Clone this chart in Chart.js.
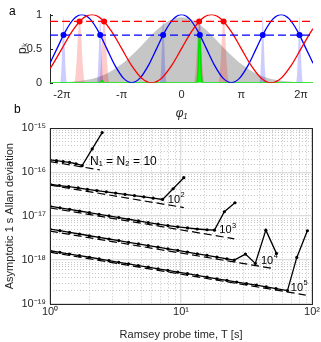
<!DOCTYPE html>
<html><head><meta charset="utf-8">
<script src="https://cdn.jsdelivr.net/npm/chart.js@4"></script>
<style>
html,body{margin:0;padding:0;background:#fff;}
#wrap{position:relative;width:321px;height:342px;overflow:hidden;background:#fff;}
canvas{position:absolute;left:0;}
#ca{top:0;} #cb{top:90px;}
</style></head><body>
<div id="wrap"><canvas id="cb" width="321" height="252"></canvas><canvas id="ca" width="321" height="130"></canvas></div>
<script>
// ---------- Panel a data (phase in units of pi) ----------
const phiTicks = [-2, -1, 0, 1, 2];
const phiLabels = ['-2π', '-π', '0', 'π', '2π'];
const pTicks = [0, 0.5, 1];

const redX = [-2.2,-2.1667,-2.0,-1.8333,-1.6667,-1.5,-1.3333,-1.1667,-1.0,-0.8333,-0.6667,-0.5,-0.3333,-0.1667,0,0.1667,0.3333,0.5,0.6667,0.8333,1.0,1.1667,1.3333,1.5,1.6667,1.8333,2.0,2.1667,2.2];
const redY = [0.206,0.25,0.5,0.75,0.933,1.0,0.933,0.75,0.5,0.25,0.067,0,0.067,0.25,0.5,0.75,0.933,1.0,0.933,0.75,0.5,0.25,0.067,0,0.067,0.25,0.5,0.75,0.794];

const blueX = [-2.2,-2.0833,-1.9444,-1.8056,-1.6667,-1.5278,-1.3889,-1.25,-1.1111,-0.9722,-0.8333,-0.6944,-0.5556,-0.4167,-0.2778,-0.1389,0,0.1389,0.2778,0.4167,0.5556,0.6944,0.8333,0.9722,1.1111,1.25,1.3889,1.5278,1.6667,1.8056,1.9444,2.0833,2.2];
const blueY = [0.287,0.5,0.75,0.933,1.0,0.933,0.75,0.5,0.25,0.067,0,0.067,0.25,0.5,0.75,0.933,1.0,0.933,0.75,0.5,0.25,0.067,0,0.067,0.25,0.5,0.75,0.933,1.0,0.933,0.75,0.5,0.287];

const grayX = [-2.2,-2.0,-1.8,-1.6,-1.4,-1.2,-1.0,-0.8,-0.6,-0.4,-0.2,0,0.2,0.4,0.6,0.8,1.0,1.2,1.4,1.6,1.8,2.0,2.2];
const grayY = [0.002,0.006,0.016,0.038,0.081,0.157,0.273,0.429,0.610,0.785,0.913,0.96,0.913,0.785,0.610,0.429,0.273,0.157,0.081,0.038,0.016,0.006,0.002];

const blueSpikeX = [-2.2,-2.034,-2.009,-1.992,-1.974,-1.956,-1.939,-1.914,-1.420,-1.395,-1.378,-1.360,-1.342,-1.325,-1.300,-0.367,-0.342,-0.325,-0.307,-0.289,-0.272,-0.247,0.247,0.272,0.289,0.307,0.325,0.342,0.367,1.300,1.325,1.342,1.360,1.378,1.395,1.420,1.914,1.939,1.956,1.974,1.992,2.009,2.034,2.2];
const blueSpikeY = [0,0,0.2,0.6,0.98,0.6,0.2,0,0,0.2,0.6,0.98,0.6,0.2,0,0,0.2,0.6,0.98,0.6,0.2,0,0,0.2,0.6,0.98,0.6,0.2,0,0,0.2,0.6,0.98,0.6,0.2,0,0,0.2,0.6,0.98,0.6,0.2,0,0];

const pinkSpikeX = [-2.2,-1.795,-1.760,-1.735,-1.705,-1.675,-1.650,-1.615,-1.385,-1.350,-1.325,-1.295,-1.265,-1.240,-1.205,0.205,0.240,0.265,0.295,0.325,0.350,0.385,0.615,0.650,0.675,0.705,0.735,0.760,0.795,2.2];
const pinkSpikeY = [0,0,0.25,0.65,0.93,0.65,0.25,0,0,0.25,0.65,0.93,0.65,0.25,0,0,0.25,0.65,0.93,0.65,0.25,0,0,0.25,0.65,0.93,0.65,0.25,0,0];

const greenX = [-2.2,-1.36,-1.33,-1.30,0.255,0.275,0.289,0.301,0.313,0.327,0.347,2.2];
const greenY = [0,0,0.03,0,0,0.2,0.55,0.72,0.55,0.2,0,0];

const levelX = [-2.2, 2.2];
const redLevel = [0.9, 0.9];
const blueLevel = [0.7, 0.7];
const redMarkX = [-1.705,-1.295,0.295,0.705];
const redMarkY = [0.9,0.9,0.9,0.9];
const blueMarkX = [-1.974,-1.360,-0.307,0.307,1.360,1.974];
const blueMarkY = [0.7,0.7,0.7,0.7,0.7,0.7];

// ---------- Panel b data ----------
const T10 = [1,1.12,1.26,1.41,1.58,1.76,2.1,2.5];
const S10 = [1.92e-16,1.83e-16,1.75e-16,1.67e-16,1.56e-16,1.42e-16,3.4e-16,8.0e-16];
const T100 = [1,1.18,1.39,1.64,1.93,2.28,2.69,3.17,3.74,4.41,5.2,6.13,7.23,8.7,10.5];
const S100 = [5.33e-17,4.98e-17,4.70e-17,4.40e-17,4.05e-17,3.83e-17,3.57e-17,3.36e-17,3.12e-17,2.94e-17,2.75e-17,2.56e-17,2.40e-17,4.2e-17,7.5e-17];
const T1e3 = [1,1.19,1.41,1.68,2.0,2.37,2.82,3.35,3.98,4.73,5.62,6.68,7.94,9.44,11.2,13.3,15.8,18.0,21.4,25.8];
const S1e3 = [1.69e-17,1.55e-17,1.43e-17,1.31e-17,1.20e-17,1.10e-17,1.01e-17,9.3e-18,8.5e-18,7.8e-18,7.15e-18,6.55e-18,6.1e-18,5.7e-18,5.4e-18,5.1e-18,4.9e-18,4.8e-18,1.26e-17,2.02e-17];
const T1e4 = [1,1.19,1.41,1.68,2.0,2.37,2.82,3.35,3.98,4.73,5.62,6.68,7.94,9.44,11.2,13.3,15.8,18.8,22.4,25.5,31,36.9,44.4,53.5];
const S1e4 = [5.07e-18,4.66e-18,4.27e-18,3.92e-18,3.58e-18,3.30e-18,3.02e-18,2.78e-18,2.54e-18,2.34e-18,2.14e-18,1.97e-18,1.80e-18,1.66e-18,1.52e-18,1.39e-18,1.28e-18,1.17e-18,1.07e-18,1.0e-18,1.37e-18,8.4e-19,4.8e-18,1.42e-18];
const T1e5 = [1,1.19,1.41,1.68,2.0,2.37,2.82,3.35,3.98,4.73,5.62,6.68,7.94,9.44,11.2,13.3,15.8,18.8,22.4,26.6,31.6,37.6,44.7,53.1,64.9,76.5,92.1];
const S1e5 = [1.63e-18,1.50e-18,1.37e-18,1.26e-18,1.16e-18,1.06e-18,9.7e-19,8.9e-19,8.2e-19,7.5e-19,6.9e-19,6.3e-19,5.8e-19,5.3e-19,4.9e-19,4.5e-19,4.1e-19,3.75e-19,3.45e-19,3.15e-19,2.9e-19,2.68e-19,2.45e-19,2.25e-19,2.02e-19,1.15e-18,4.65e-18];

const DT10 = [1,2.4], DS10 = [1.75e-16,1.13e-16];
const DT100 = [1,10.5], DS100 = [5.1e-17,1.57e-17];
const DT1e3 = [1,25.5], DS1e3 = [1.54e-17,3.05e-18];
const DT1e4 = [1,50], DS1e4 = [4.56e-18,6.45e-19];
const DT1e5 = [1,89.5], DS1e5 = [1.51e-18,1.6e-19];

const curveLabels = [
  {t: 2.02, s: 1.75e-16, base: 'N₁ = N₂ = 10', exp: ''},
  {t: 7.93, s: 2.33e-17, base: '10', exp: '2'},
  {t: 19.6, s: 4.82e-18, base: '10', exp: '3'},
  {t: 40.7, s: 9.5e-19, base: '10', exp: '4'},
  {t: 68.9, s: 2.37e-19, base: '10', exp: '5'}
];

// ---------- helpers ----------
const FONT = "'Liberation Sans', Arial, Helvetica, sans-serif";
Chart.defaults.font.family = FONT;
Chart.defaults.font.size = 11;
Chart.defaults.color = '#262626';
const AX = '#262626';
function pts(xs, ys){ return xs.map((x,i)=>({x:x, y:ys[i]})); }
const SUP = {'-':'⁻','0':'⁰','1':'¹','2':'²','3':'³','4':'⁴','5':'⁵','6':'⁶','7':'⁷','8':'⁸','9':'⁹'};
function isDecade(v){ const l = Math.log10(v); return Math.abs(l - Math.round(l)) < 1e-6; }
function decadeLabel(v){ if(!isDecade(v)) return ''; const e = String(Math.round(Math.log10(v))); return '10' + e.split('').map(c=>SUP[c]).join(''); }
function drawPow(ctx, x, y, base, exp, size){
  ctx.font = size + 'px ' + FONT;
  ctx.textAlign = 'left'; ctx.textBaseline = 'middle';
  ctx.fillText(base, x, y);
  if (exp) {
    const w = ctx.measureText(base).width;
    ctx.font = (size*0.68) + 'px ' + FONT;
    ctx.fillText(exp, x + w + 0.5, y - size*0.42);
  }
}

// ---------- Panel a ----------
const panelA = {
  id: 'panelA',
  afterDraw(chart){
    const ctx = chart.ctx, ca = chart.chartArea, ys = chart.scales.y;
    ctx.save();
    ctx.strokeStyle = AX; ctx.lineWidth = 1;
    pTicks.forEach(v => { const py = Math.round(ys.getPixelForValue(v)) + 0.5; ctx.beginPath(); ctx.moveTo(ca.left, py); ctx.lineTo(ca.left + 3, py); ctx.stroke(); });
    ctx.fillStyle = '#000';
    ctx.font = '12px ' + FONT; ctx.textAlign = 'left'; ctx.textBaseline = 'middle';
    ctx.fillText('a', 9, 12);
    ctx.restore();
  }
};

new Chart(document.getElementById('ca'), {
  type: 'line',
  data: { datasets: [
    {label:'red crossings', data: pts(redMarkX, redMarkY), showLine:false, pointRadius:3, pointBackgroundColor:'#ff0000', pointBorderColor:'#ff0000', pointBorderWidth:0, order:0},
    {label:'blue crossings', data: pts(blueMarkX, blueMarkY), showLine:false, pointRadius:3, pointBackgroundColor:'#0000ff', pointBorderColor:'#0000ff', pointBorderWidth:0, order:0},
    {label:'red level', data: pts(levelX, redLevel), borderColor:'#ff0000', borderWidth:1.3, borderDash:[8,4], pointRadius:0, order:1},
    {label:'blue level', data: pts(levelX, blueLevel), borderColor:'#0000ff', borderWidth:1.3, borderDash:[8,4], pointRadius:0, order:1},
    {label:'red', data: pts(redX, redY), borderColor:'#ff0000', borderWidth:1.3, pointRadius:0, cubicInterpolationMode:'monotone', order:2},
    {label:'blue', data: pts(blueX, blueY), borderColor:'#0000ff', borderWidth:1.3, pointRadius:0, cubicInterpolationMode:'monotone', order:2},
    {label:'green', data: pts(greenX, greenY), borderColor:'#00e000', backgroundColor:'#00ff00', fill:'origin', borderWidth:1.5, pointRadius:0, cubicInterpolationMode:'monotone', order:3},
    {label:'pink', data: pts(pinkSpikeX, pinkSpikeY), borderWidth:0, borderColor:'rgba(0,0,0,0)', backgroundColor:'rgba(255,0,0,0.2)', fill:'origin', pointRadius:0, cubicInterpolationMode:'monotone', order:4},
    {label:'lightblue', data: pts(blueSpikeX, blueSpikeY), borderWidth:0, borderColor:'rgba(0,0,0,0)', backgroundColor:'rgba(0,0,255,0.2)', fill:'origin', pointRadius:0, cubicInterpolationMode:'monotone', order:4},
    {label:'gray', data: pts(grayX, grayY), borderWidth:0, borderColor:'rgba(0,0,0,0)', backgroundColor:'#c6c6c6', fill:'origin', pointRadius:0, cubicInterpolationMode:'monotone', order:5}
  ]},
  options: {
    responsive:false, animation:false, devicePixelRatio:1,
    layout:{padding:{left:0,right:8,top:10,bottom:0}},
    plugins:{legend:{display:false}, tooltip:{enabled:false}},
    scales:{
      x:{type:'linear', min:-2.2, max:2.2,
         afterFit: s => { s.height = 47.3; },
         afterBuildTicks: s => { s.ticks = phiTicks.map(v => ({value:v})); },
         ticks:{callback: v => phiLabels[phiTicks.indexOf(v)], padding:6, maxRotation:0, autoSkip:false, font:{size:11}},
         grid:{display:false, drawTicks:false}, border:{display:false},
         title:{display:true, text:'φ₁', font:{size:12, style:'italic'}, padding:{top:0,bottom:9}}},
      y:{min:0, max:1,
         afterFit: s => { s.width = 50; },
         afterBuildTicks: s => { s.ticks = pTicks.map(v => ({value:v})); },
         ticks:{padding:8, callback: v => String(v), font:{size:11}},
         grid:{display:false, drawTicks:false}, border:{display:true, color:AX, width:1},
         title:{display:true, text:'pₖ', font:{size:12}, padding:{top:15,bottom:0}}}
    }
  },
  plugins:[panelA]
});

// ---------- Panel b ----------
const panelB = {
  id: 'panelB',
  afterDraw(chart){
    const ctx = chart.ctx, ca = chart.chartArea, xs = chart.scales.x, ys = chart.scales.y;
    ctx.save();
    ctx.strokeStyle = AX; ctx.lineWidth = 1;
    ctx.strokeRect(Math.round(ca.left)+0.5, Math.round(ca.top)+0.5, Math.round(ca.right-ca.left), Math.round(ca.bottom-ca.top));
    ctx.fillStyle = '#000';
    curveLabels.forEach(l => {
      drawPow(ctx, xs.getPixelForValue(l.t), ys.getPixelForValue(l.s), l.base, l.exp, l.exp ? 11 : 12);
    });
    ctx.font = '12px ' + FONT; ctx.textAlign = 'left'; ctx.textBaseline = 'middle';
    ctx.fillText('b', 14, 20);
    ctx.restore();
  }
};

function solid(label, t, s){ return {label, data: pts(t, s), borderColor:'#000', borderWidth:1.3, pointRadius:1.6, pointBackgroundColor:'#000', pointBorderWidth:0, tension:0}; }
function dashed(label, t, s){ return {label, data: pts(t, s), borderColor:'#000', borderWidth:1.2, borderDash:[8,4], pointRadius:0, tension:0}; }

const gridColor = ctx => (ctx.tick && isDecade(ctx.tick.value)) ? '#dcdcdc' : '#b8b8b8';
const gridWidth = ctx => (ctx.tick && isDecade(ctx.tick.value)) ? 1.3 : 0.8;
const gridDash = ctx => (ctx.tick && isDecade(ctx.tick.value)) ? [] : [1,2];

new Chart(document.getElementById('cb'), {
  type: 'line',
  data: { datasets: [
    solid('N=10', T10, S10), solid('N=100', T100, S100), solid('N=1000', T1e3, S1e3), solid('N=10000', T1e4, S1e4), solid('N=100000', T1e5, S1e5),
    dashed('N=10 asymptote', DT10, DS10), dashed('N=100 asymptote', DT100, DS100), dashed('N=1000 asymptote', DT1e3, DS1e3), dashed('N=10000 asymptote', DT1e4, DS1e4), dashed('N=100000 asymptote', DT1e5, DS1e5)
  ]},
  options: {
    responsive:false, animation:false, devicePixelRatio:1,
    layout:{padding:{left:0,right:8,top:38.3,bottom:0}},
    plugins:{legend:{display:false}, tooltip:{enabled:false}},
    scales:{
      x:{type:'logarithmic', min:1, max:100,
         afterFit: s => { s.height = 38; },
         ticks:{autoSkip:false, maxRotation:0, padding:1, callback: v => decadeLabel(v), font:{size:11}},
         grid:{color:gridColor, lineWidth:gridWidth, drawTicks:false},
         border:{display:false, dash:gridDash},
         title:{display:true, text:'Ramsey probe time, T [s]', font:{size:11}, padding:{top:0,bottom:0}}},
      y:{type:'logarithmic', min:1e-19, max:1e-15,
         afterFit: s => { s.width = 50; },
         ticks:{autoSkip:false, padding:4, callback: v => decadeLabel(v), font:{size:11}},
         grid:{color:gridColor, lineWidth:gridWidth, drawTicks:false},
         border:{display:false, dash:gridDash},
         title:{display:true, text:'Asymptotic 1 s Allan deviation', font:{size:11}, padding:{top:3,bottom:0}}}
    }
  },
  plugins:[panelB]
});
</script></body></html>
